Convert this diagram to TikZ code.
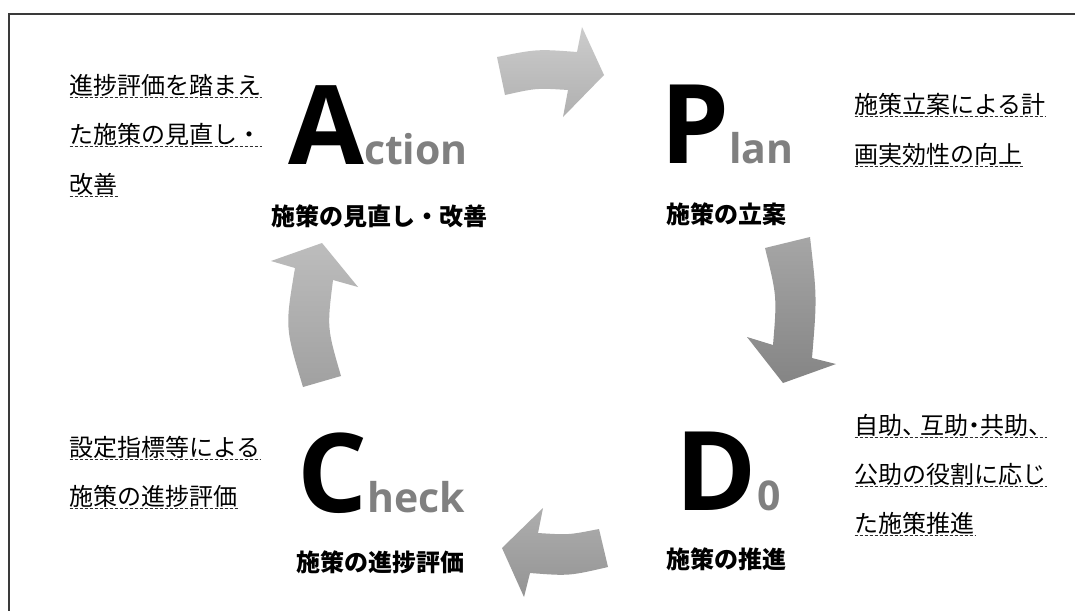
\documentclass[tikz,border=0pt]{standalone}
\usepackage{fontspec}
\usetikzlibrary{calc}
\newfontfamily\jp{Noto Sans CJK JP}
\newfontfamily\lat{Open Sans}
\definecolor{framec}{HTML}{3A3A3A}
\definecolor{letgray}{HTML}{808080}
\definecolor{ulc}{HTML}{303030}
\newcommand\dline[4]{%
  \node[desc] (#1) at (#2,#3) {#4};
  \draw[uline] ($(#1.base west)+(0,3)$) -- ($(#1.base east)+(0,3)$);}
\begin{document}
\begin{tikzpicture}[x=1pt,y=-1pt,
  desc/.style={anchor=base west, inner sep=0pt, font=\jp\fontsize{24}{28}\selectfont},
  stage/.style={anchor=center, inner sep=0pt, font=\jp\bfseries\fontsize{24}{28}\selectfont},
  big/.style={anchor=base, inner sep=0pt, font=\lat\bfseries},
  uline/.style={draw=ulc, line width=0.9pt, dash pattern=on 3pt off 2pt},
  cyc/.style={draw=none, shading=axis, shading angle=0}]
\useasboundingbox (0,0) rectangle (1075,610);
\fill[white] (0,0) rectangle (1075,610);
\draw[framec, line width=2pt] (9,14) rectangle (1100,640);

% cycle arrows
\path[cyc, top color=black!20, bottom color=black!31]
  (497,57) .. controls (537,49) .. (577,52) -- (582,27) -- (604,75) -- (563,117)
  -- (568,90) .. controls (536.5,88) .. (505,95) -- cycle;
\path[cyc, top color=black!35, bottom color=black!48]
  (765,248) -- (810,237) .. controls (817,297.5) .. (812,358) -- (836,364)
  -- (783,383) -- (747,337) -- (773,345) .. controls (777,296.5) .. (765,248) -- cycle;
\path[cyc, top color=black!32, bottom color=black!42]
  (599,529) .. controls (568.5,535) .. (538,533) -- (543,508) -- (502,548)
  -- (524,597) -- (530,573) .. controls (569,576) .. (608,567) -- cycle;
\path[cyc, top color=black!26, bottom color=black!37]
  (303,387) -- (341,376) .. controls (327,328) .. (333,280) -- (358,287)
  -- (322,243) -- (271,261) -- (295,268) .. controls (285,327.5) .. (303,387) -- cycle;

% big letters
\node[big] (act) at (378,164) {\fontsize{110}{120}\selectfont A\fontsize{41}{50}\selectfont\textcolor{letgray}{ction}};
\node[big] (pln) at (727,163) {\fontsize{110}{120}\selectfont P\fontsize{41}{50}\selectfont\textcolor{letgray}{lan}};
\node[big] (chk) at (381,512) {\fontsize{110}{120}\selectfont C\fontsize{41}{50}\selectfont\textcolor{letgray}{heck}};
\node[big] (doo) at (728,510) {\fontsize{110}{120}\selectfont D\fontsize{41}{50}\selectfont\textcolor{letgray}{0}};

% stage labels
\node[stage] (sa) at (379.5,216) {施策の見直し・改善};
\node[stage] (sp) at (726,214) {施策の立案};
\node[stage] (sc) at (380.5,562) {施策の進捗評価};
\node[stage] (sd) at (726,559) {施策の推進};

% descriptions
\dline{a1}{69.5}{94.5}{進捗評価を踏まえ}
\dline{a2}{69.5}{143.4}{た施策の見直し・}
\dline{a3}{69.5}{193.3}{改善}
\dline{p1}{854.5}{113.7}{施策立案による計}
\dline{p2}{854.5}{163}{画実効性の向上}
\dline{c1}{69.5}{456}{設定指標等による}
\dline{c2}{69.5}{505}{施策の進捗評価}
\dline{d1}{854.5}{434}{自助\makebox[0.75em][l]{、}互助\makebox[0.5em][c]{・}共助\makebox[0.75em][l]{、}}
\dline{d2}{854.5}{483.5}{公助の役割に応じ}
\dline{d3}{854.5}{532}{た施策推進}
\end{tikzpicture}
\end{document}
